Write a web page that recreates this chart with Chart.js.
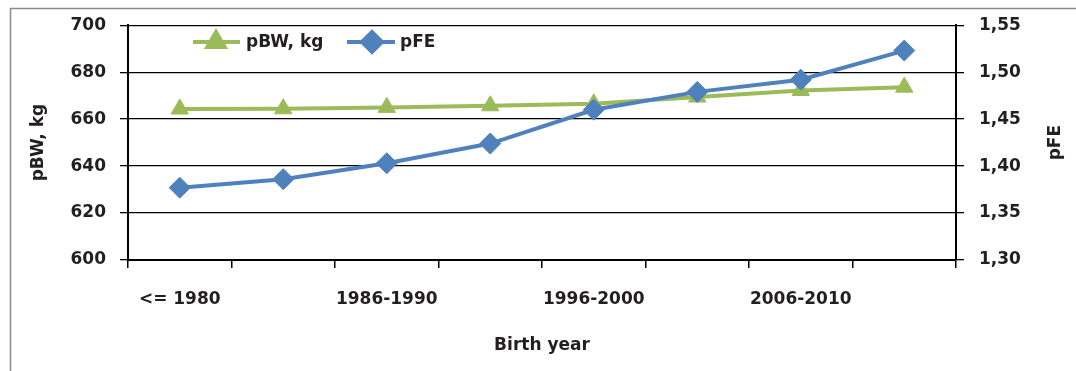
<!DOCTYPE html>
<html><head><meta charset="utf-8">
<script src="https://cdn.jsdelivr.net/npm/chart.js@4.4.1/dist/chart.umd.min.js"></script>
<style>html,body{margin:0;padding:0;background:#fff;}#wrap{width:1076px;height:371px;}</style>
</head><body><div id="wrap"><canvas id="c" width="1076" height="371"></canvas></div>
<script>
const categories = ["<= 1980","1981-1985","1986-1990","1991-1995","1996-2000","2001-2005","2006-2010","2011-2015"];
const pBW = [664.3, 664.4, 665.0, 665.7, 666.5, 669.4, 672.2, 673.6];
const pFE = [1.377, 1.386, 1.403, 1.424, 1.460, 1.479, 1.492, 1.523];
const leftTicks = [600, 620, 640, 660, 680, 700];
const rightTicks = [1.30, 1.35, 1.40, 1.45, 1.50, 1.55];
const seriesNames = ["pBW, kg", "pFE"];
const xTitle = "Birth year";
const yLeftTitle = "pBW, kg";
const yRightTitle = "pFE";

const GREEN = '#9BBB59', BLUE = '#4F81BD', TXT = '#231F20';
const FONT = {family: "'DejaVu Sans', sans-serif", size: 17, weight: 'bold'};

const framePlugin = {
  id: 'frame',
  beforeDraw(chart) {
    const ctx = chart.ctx;
    ctx.save();
    ctx.fillStyle = '#fff';
    ctx.fillRect(0, 0, chart.width, chart.height);
    ctx.strokeStyle = '#8a8a8a';
    ctx.lineWidth = 1.5;
    ctx.strokeRect(10.5, 8.5, 1200, 500);
    ctx.restore();
  },
  afterDraw(chart) {
    const ctx = chart.ctx;
    ctx.save();
    ctx.fillStyle = TXT;
    ctx.font = `bold ${FONT.size}px ${FONT.family}`;
    ctx.textAlign = 'center';
    ctx.textBaseline = 'middle';
    const ca = chart.chartArea;
    ctx.translate(1056, (ca.top + ca.bottom) / 2);
    ctx.rotate(-Math.PI / 2);
    ctx.fillText(yRightTitle, 0, 0);
    ctx.restore();
    const items = [
      {x1: 193, x2: 240, px: 216, tx: 246, color: GREEN, style: 'triangle', r: 10, text: seriesNames[0]},
      {x1: 347, x2: 395, px: 372, tx: 400, color: BLUE, style: 'rectRot', r: 10, text: seriesNames[1]}
    ];
    const y = 42;
    items.forEach(it => {
      ctx.save();
      ctx.strokeStyle = it.color;
      ctx.lineWidth = 4;
      ctx.beginPath();
      ctx.moveTo(it.x1, y); ctx.lineTo(it.x2, y); ctx.stroke();
      ctx.fillStyle = it.color;
      Chart.helpers.drawPoint(ctx, {pointStyle: it.style, radius: it.r, borderWidth: 1, rotation: 0}, it.px, y);
      ctx.fill();
      ctx.fillStyle = TXT;
      ctx.font = `bold ${FONT.size}px ${FONT.family}`;
      ctx.textAlign = 'left';
      ctx.textBaseline = 'middle';
      ctx.fillText(it.text, it.tx, y + 1);
      ctx.restore();
    });
  }
};

new Chart(document.getElementById('c'), {
  type: 'line',
  data: {
    labels: categories,
    datasets: [
      {label: seriesNames[0], data: pBW, yAxisID: 'y', borderColor: GREEN, backgroundColor: GREEN,
       borderWidth: 4, pointStyle: 'triangle', pointRadius: 10, pointHoverRadius: 10, pointBorderWidth: 1,
       tension: 0, order: 2},
      {label: seriesNames[1], data: pFE, yAxisID: 'y1', borderColor: BLUE, backgroundColor: BLUE,
       borderWidth: 4, pointStyle: 'rectRot', pointRadius: 10.5, pointHoverRadius: 10.5, pointBorderWidth: 1,
       tension: 0, order: 1}
    ]
  },
  options: {
    responsive: false,
    animation: false,
    layout: {padding: {top: 25, left: 0, right: 0, bottom: 0}},
    plugins: {legend: {display: false}, tooltip: {enabled: false}},
    scales: {
      x: {
        offset: true,
        grid: {offset: true, drawOnChartArea: false, drawTicks: true, tickLength: 8, color: '#000', lineWidth: 1.5},
        border: {display: true, color: '#000', width: 2},
        ticks: {autoSkip: false, maxRotation: 0, minRotation: 0, padding: 21, color: TXT, font: FONT,
                callback: (v, i) => i % 2 === 0 ? categories[i] : ''},
        title: {display: true, text: xTitle, color: TXT, font: FONT, padding: {top: 0, bottom: 15}},
        afterFit(s) { s.height = 111; }
      },
      y: {
        position: 'left',
        min: leftTicks[0], max: leftTicks[leftTicks.length - 1],
        afterBuildTicks(s) { s.ticks = leftTicks.map(v => ({value: v})); },
        grid: {color: '#000', lineWidth: 1.3, tickLength: 8},
        border: {display: true, color: '#000', width: 2},
        ticks: {padding: 14, color: TXT, font: FONT},
        title: {display: true, text: yLeftTitle, color: TXT, font: FONT, padding: {top: 28, bottom: 0}},
        afterFit(s) { s.width = 128; }
      },
      y1: {
        position: 'right',
        min: rightTicks[0], max: rightTicks[rightTicks.length - 1],
        afterBuildTicks(s) { s.ticks = rightTicks.map(v => ({value: v})); },
        grid: {drawOnChartArea: false, color: '#000', lineWidth: 1.3, tickLength: 8},
        border: {display: true, color: '#000', width: 2},
        ticks: {padding: 15, color: TXT, font: FONT, callback: v => v.toFixed(2).replace('.', ',')},
        afterFit(s) { s.width = 120; }
      }
    }
  },
  plugins: [framePlugin]
});
</script>
</body></html>
